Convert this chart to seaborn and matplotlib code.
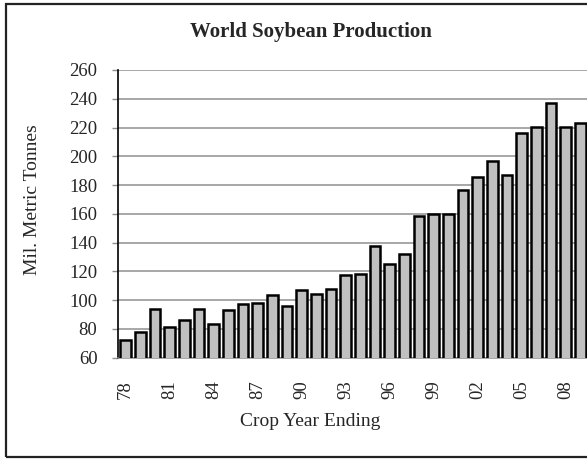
import matplotlib
matplotlib.use("Agg")
import matplotlib.pyplot as plt
import seaborn as sns
import pandas as pd
from matplotlib.patches import Rectangle

years = ["78", "79", "80", "81", "82", "83", "84", "85", "86", "87", "88", "89",
         "90", "91", "92", "93", "94", "95", "96", "97", "98", "99", "00", "01",
         "02", "03", "04", "05", "06", "07", "08", "09"]
production = [72.2, 77.9, 93.6, 81.1, 86.4, 93.8, 83.7, 93.1, 97.2, 98.2, 103.7, 95.6,
              107.4, 104.6, 107.6, 117.5, 118.0, 137.7, 125.1, 132.2, 158.2, 160.0, 160.0, 176.5,
              185.3, 197.0, 186.7, 215.9, 220.7, 237.2, 220.7, 223.0]
yticks = [60, 80, 100, 120, 140, 160, 180, 200, 220, 240, 260]
title = "World Soybean Production"
xlabel = "Crop Year Ending"
ylabel = "Mil. Metric Tonnes"

sns.set_style("white")
plt.rcParams["font.family"] = ["Liberation Serif", "DejaVu Serif"]

df = pd.DataFrame({"year": years, "value": production})

fig = plt.figure(figsize=(5.87, 4.59), dpi=100)
ax = fig.add_axes([118.3 / 587, 1 - 357.7 / 459, 469.4 / 587, (357.7 - 70) / 459])

sns.barplot(data=df, x="year", y="value", order=years, color="#C0C0C0",
            saturation=1, edgecolor="black", linewidth=1.8, width=0.74, ax=ax, zorder=3)

ax.set_ylim(60, 260)
ax.set_xlim(-0.5, len(years) - 0.5)
ax.set_yticks(yticks)
ax.set_yticklabels([str(v) for v in yticks], fontsize=13.5)
ax.yaxis.grid(True, color="#8f8f8f", linewidth=1.1, zorder=0)
ax.set_axisbelow(True)

label_pos = list(range(0, len(years), 3))
ax.set_xticks(label_pos)
ax.set_xticklabels([years[i] for i in label_pos], rotation=90, fontsize=13.5)
ax.set_xticks([i - 0.5 for i in range(len(years) + 1)], minor=True)
ax.tick_params(axis="x", which="major", length=0, pad=16)
ax.tick_params(axis="x", which="minor", length=4, color="#8f8f8f", width=1)
ax.tick_params(axis="y", which="major", length=4.5, color="#8f8f8f", width=1, pad=10.5, left=True)

for s in ["top", "right"]:
    ax.spines[s].set_visible(False)
ax.spines["left"].set_color("black")
ax.spines["left"].set_linewidth(1.2)
ax.spines["bottom"].set_color("#8f8f8f")
ax.spines["bottom"].set_linewidth(1.1)

ax.set_xlabel("")
ax.set_ylabel("")

fig.text(311 / 587, 1 - 32 / 459, title, ha="center", va="center",
         fontsize=15, fontweight="bold")
fig.text(310 / 587, 1 - 422 / 459, xlabel, ha="center", va="center", fontsize=14)
fig.text(33 / 587, 1 - 200 / 459, ylabel, ha="center", va="center",
         rotation=90, fontsize=14)

frame = Rectangle((6 / 587, 1 - 457 / 459), 600 / 587, (457 - 4) / 459,
                  transform=fig.transFigure, fill=False, edgecolor="#222222",
                  linewidth=1.6, clip_on=False)
fig.patches.append(frame)

fig.savefig("out.png", dpi=100)
